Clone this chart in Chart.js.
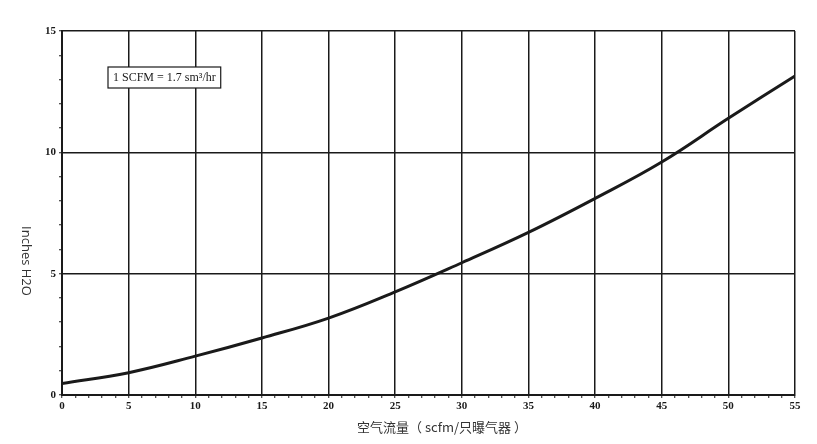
<!DOCTYPE html>
<html>
<head>
<meta charset="utf-8">
<script src="https://cdn.jsdelivr.net/npm/chart.js@4/dist/chart.umd.min.js"></script>
<style>
  html, body { margin: 0; padding: 0; background: #fff; }
  #wrap { position: relative; width: 817px; height: 444px; }
</style>
</head>
<body>
<div id="wrap"><canvas id="c"></canvas></div>
<script>
// values
const airflow = [0, 5, 10, 15, 20, 25, 30, 35, 40, 45, 50, 55];
const pressure = [0.47, 0.92, 1.6, 2.35, 3.17, 4.25, 5.45, 6.7, 8.1, 9.6, 11.4, 13.15];
const xTitle = '空气流量（ scfm/只曝气器 ）';
const yTitle = 'Inches H2O';
const noteText = '1 SCFM = 1.7 sm³/hr';

const ink = '#1a1a1a';

// draws the rotated y title, x title and the note box
const extras = {
    id: 'extras',
    afterDatasetsDraw(chart) {
        const ctx = chart.ctx;
        ctx.save();
        // note box
        ctx.font = '12px "Liberation Serif", "Times New Roman", serif';
        const w = ctx.measureText(noteText).width + 10;
        ctx.fillStyle = '#fff';
        ctx.fillRect(108, 67, w, 21);
        ctx.strokeStyle = ink;
        ctx.lineWidth = 1.2;
        ctx.strokeRect(108, 67, w, 21);
        ctx.fillStyle = ink;
        ctx.textBaseline = 'middle';
        ctx.fillText(noteText, 113, 78);
        ctx.restore();
    },
    afterDraw(chart) {
        const ctx = chart.ctx;
        ctx.save();
        ctx.fillStyle = '#333';
        ctx.textAlign = 'center';
        ctx.textBaseline = 'middle';
        ctx.font = '13px "Noto Sans CJK SC", "Noto Sans", sans-serif';
        ctx.fillText(xTitle, 442, 427);
        ctx.translate(26, 261);
        ctx.rotate(Math.PI / 2);
        ctx.font = '13px "Open Sans", "Noto Sans", sans-serif';
        ctx.fillText(yTitle, 0, 0);
        ctx.restore();
    }
};

const tickFont = { family: '"Liberation Serif", "Times New Roman", serif', size: 11, weight: 'bold' };

new Chart(document.getElementById('c'), {
    type: 'line',
    data: {
        labels: airflow,
        datasets: [{
            data: airflow.map((x, i) => ({ x: x, y: pressure[i] })),
            borderColor: ink,
            borderWidth: 3,
            pointRadius: 0,
            tension: 0.4,
            fill: false
        }]
    },
    options: {
        responsive: true,
        maintainAspectRatio: false,
        animation: false,
        layout: { padding: { left: 0, right: 22, top: 31, bottom: 0 } },
        plugins: {
            legend: { display: false },
            tooltip: { enabled: false }
        },
        scales: {
            x: {
                type: 'linear',
                min: 0,
                max: 55,
                afterFit: s => { s.height = 49; },
                border: { color: ink, width: 2 },
                grid: {
                    color: c => (c.tick && c.tick.value % 5 === 0) ? ink : 'rgba(0,0,0,0)',
                    lineWidth: 1.5,
                    tickColor: ink,
                    tickLength: 3,
                    tickWidth: 1
                },
                ticks: {
                    stepSize: 1,
                    autoSkip: false,
                    maxRotation: 0,
                    padding: 2,
                    color: ink,
                    font: tickFont,
                    callback: v => v % 5 === 0 ? v : ''
                }
            },
            y: {
                min: 0,
                max: 15,
                afterFit: s => { s.width = 62; },
                border: { color: ink, width: 2 },
                grid: {
                    color: c => (c.tick && c.tick.value % 5 === 0) ? ink : 'rgba(0,0,0,0)',
                    lineWidth: 1.5,
                    tickColor: ink,
                    tickLength: 3,
                    tickWidth: 1
                },
                ticks: {
                    stepSize: 1,
                    autoSkip: false,
                    padding: 3,
                    color: ink,
                    font: tickFont,
                    callback: v => v % 5 === 0 ? v : ''
                }
            }
        }
    },
    plugins: [extras]
});
</script>
</body>
</html>
